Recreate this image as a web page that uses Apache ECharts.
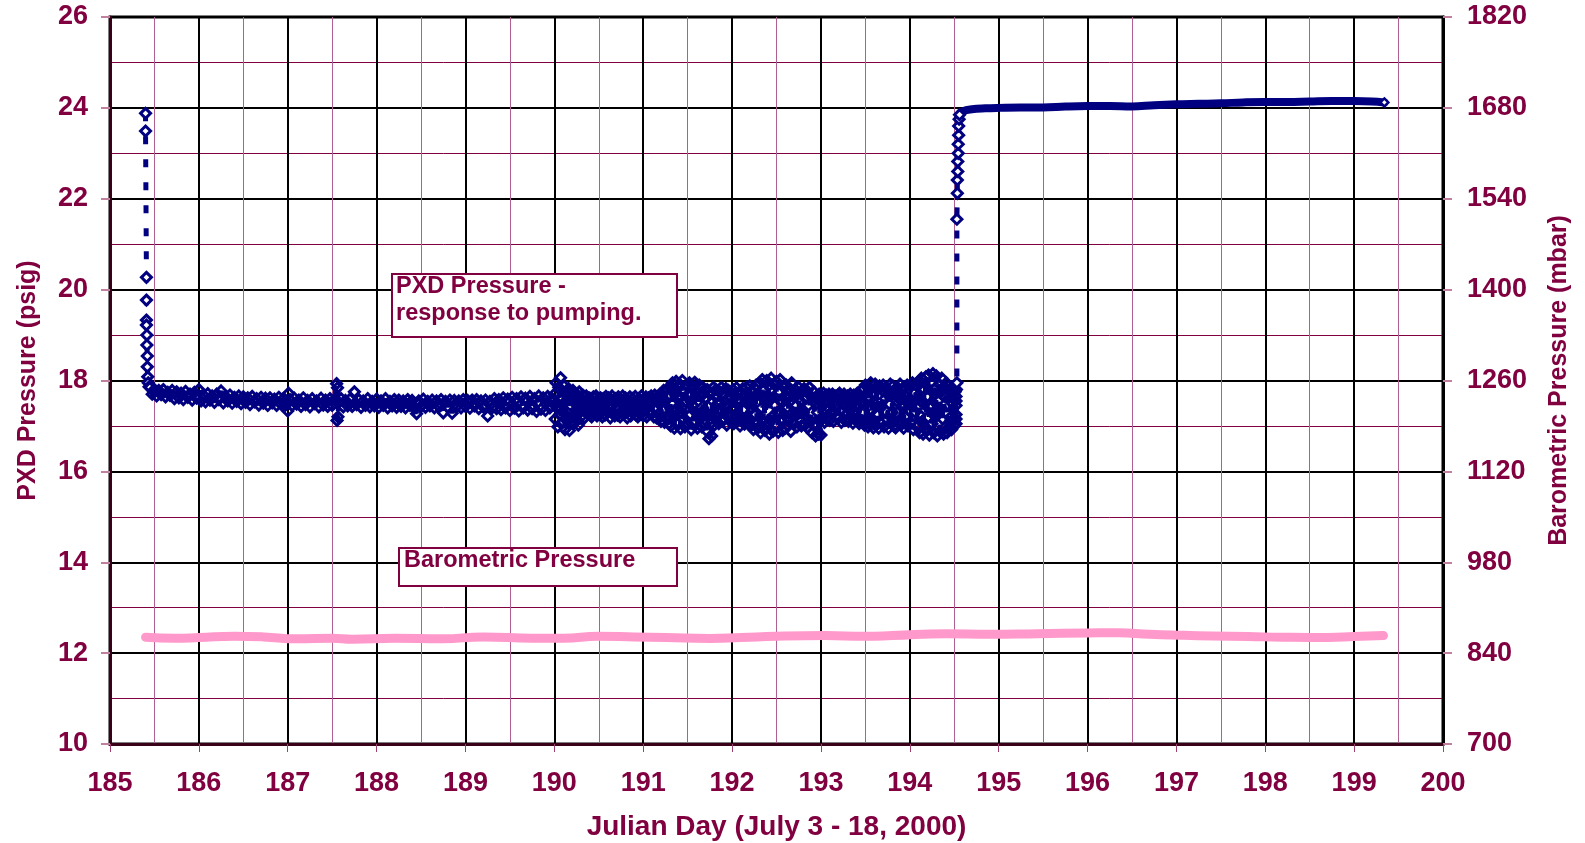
<!DOCTYPE html>
<html>
<head>
<meta charset="utf-8">
<script src="https://cdn.jsdelivr.net/npm/echarts@6/dist/echarts.min.js"></script>
<style>
html,body{margin:0;padding:0;background:#fff;}
#chart{width:1585px;height:843px;}
</style>
</head>
<body>
<div id="chart"></div>
<script>
// PXD pressure (psig), drop at the start of pumping: [Julian day, psig]
const pxdStart = [
[185.40,23.88],[185.40,23.49],[185.41,20.27],[185.41,19.77],[185.41,19.33],[185.41,19.22],[185.415,19.00],[185.415,18.78],[185.42,18.54],[185.42,18.30],[185.425,18.08],[185.43,17.95],[185.44,17.86]
];
// PXD pressure (psig), steady pumping, days 185.45 - 190: [Julian day, psig]
const pxdSteady = [
[185.450,17.85],[185.475,17.70],[185.500,17.80],[185.525,17.66],[185.550,17.78],[185.575,17.69],[185.600,17.80],[185.625,17.64],[185.650,17.74],[185.675,17.67],
[185.700,17.78],[185.725,17.60],[185.750,17.75],[185.775,17.62],[185.800,17.72],[185.825,17.58],[185.850,17.76],[185.875,17.63],[185.900,17.70],[185.925,17.57],
[185.950,17.74],[185.975,17.61],[186.000,17.80],[186.025,17.55],[186.050,17.68],[186.075,17.53],[186.100,17.71],[186.125,17.57],[186.150,17.66],[186.175,17.52],
[186.200,17.70],[186.225,17.58],[186.250,17.77],[186.275,17.51],[186.300,17.65],[186.325,17.55],[186.350,17.68],[186.375,17.50],[186.400,17.63],[186.425,17.54],
[186.450,17.66],[186.475,17.49],[186.500,17.64],[186.525,17.52],[186.550,17.62],[186.575,17.47],[186.600,17.65],[186.625,17.53],[186.650,17.60],[186.675,17.46],
[186.700,17.63],[186.725,17.50],[186.750,17.61],[186.775,17.45],[186.800,17.62],[186.825,17.51],[186.850,17.59],[186.875,17.45],[186.900,17.63],[186.925,17.48],
[186.950,17.60],[186.975,17.46],[187.000,17.33],[187.010,17.72],[187.025,17.58],[187.050,17.45],[187.075,17.61],[187.100,17.48],[187.125,17.57],[187.150,17.43],
[187.175,17.62],[187.200,17.47],[187.225,17.56],[187.250,17.42],[187.275,17.60],[187.300,17.49],[187.325,17.55],[187.350,17.42],[187.375,17.61],[187.400,17.46],
[187.425,17.57],[187.450,17.43],[187.475,17.60],[187.500,17.45],[187.525,17.58],[187.550,17.93],[187.555,17.12],[187.560,17.84],[187.565,17.20],[187.575,17.52],
[187.600,17.60],[187.625,17.42],[187.650,17.56],[187.675,17.44],[187.700,17.59],[187.725,17.43],[187.750,17.75],[187.775,17.47],[187.800,17.58],[187.825,17.41],
[187.850,17.55],[187.875,17.45],[187.900,17.60],[187.925,17.42],[187.950,17.54],[187.975,17.44],[188.000,17.59],[188.025,17.41],[188.050,17.55],[188.075,17.45],
[188.100,17.60],[188.125,17.40],[188.150,17.54],[188.175,17.44],[188.200,17.58],[188.225,17.41],[188.250,17.57],[188.275,17.43],[188.300,17.55],[188.325,17.40],
[188.350,17.58],[188.375,17.45],[188.400,17.56],[188.425,17.40],[188.450,17.27],[188.475,17.55],[188.500,17.43],[188.525,17.59],[188.550,17.41],[188.575,17.54],
[188.600,17.44],[188.625,17.57],[188.650,17.40],[188.675,17.55],[188.700,17.43],[188.725,17.58],[188.750,17.29],[188.775,17.54],[188.800,17.42],[188.825,17.57],
[188.850,17.28],[188.875,17.56],[188.900,17.42],[188.925,17.55],[188.950,17.40],[188.975,17.58],[189.000,17.43],[189.025,17.56],[189.050,17.39],[189.075,17.57],
[189.100,17.44],[189.125,17.58],[189.150,17.38],[189.175,17.55],[189.200,17.42],[189.225,17.57],[189.250,17.22],[189.275,17.54],[189.300,17.40],[189.325,17.60],
[189.350,17.38],[189.375,17.58],[189.400,17.36],[189.425,17.62],[189.450,17.40],[189.475,17.59],[189.500,17.34],[189.525,17.63],[189.550,17.39],[189.575,17.60],
[189.600,17.33],[189.625,17.64],[189.650,17.40],[189.675,17.61],[189.700,17.35],[189.725,17.65],[189.750,17.38],[189.775,17.60],[189.800,17.32],[189.825,17.66],
[189.850,17.37],[189.875,17.62],[189.900,17.34],[189.925,17.65],[189.950,17.40],[189.975,17.60]
];
// PXD pressure (psig), oscillating pumping, days 190 - 194.5: [Julian day, psig]
const pxdOscillating = [
[190.00,17.70],[190.01,17.15],[190.02,17.95],[190.03,17.40],[190.04,16.98],[190.05,17.85],[190.06,17.25],[190.07,18.06],[190.08,17.05],[190.09,17.60],
[190.10,17.30],[190.11,17.88],[190.12,16.92],[190.13,17.55],[190.14,17.75],[190.15,17.10],[190.16,17.82],[190.17,16.90],[190.18,17.45],[190.19,17.65],
[190.20,17.20],[190.21,17.78],[190.22,17.05],[190.23,17.50],[190.24,17.70],[190.25,17.15],[190.26,17.62],[190.27,17.02],[190.28,17.75],[190.29,17.35],
[190.30,17.60],[190.31,17.22],[190.32,17.68],[190.33,17.35],[190.34,17.18],[190.35,17.55],[190.36,17.66],[190.37,17.28],[190.38,17.45],[190.39,17.62],
[190.40,17.25],[190.41,17.60],[190.42,17.20],[190.43,17.50],[190.44,17.64],[190.45,17.30],[190.46,17.42],[190.47,17.66],[190.48,17.22],[190.49,17.55],
[190.50,17.58],[190.51,17.26],[190.52,17.62],[190.53,17.38],[190.54,17.20],[190.55,17.60],[190.56,17.48],[190.57,17.24],[190.58,17.65],[190.59,17.35],
[190.60,17.30],[190.61,17.62],[190.62,17.45],[190.63,17.18],[190.64,17.58],[190.65,17.66],[190.66,17.28],[190.67,17.52],[190.68,17.22],[190.69,17.60],
[190.70,17.55],[190.71,17.24],[190.72,17.64],[190.73,17.40],[190.74,17.20],[190.75,17.58],[190.76,17.32],[190.77,17.66],[190.78,17.26],[190.79,17.50],
[190.80,17.62],[190.81,17.30],[190.82,17.18],[190.83,17.56],[190.84,17.42],[190.85,17.64],[190.86,17.22],[190.87,17.50],[190.88,17.60],[190.89,17.28],
[190.90,17.36],[190.91,17.65],[190.92,17.24],[190.93,17.54],[190.94,17.20],[190.95,17.60],[190.96,17.44],[190.97,17.28],[190.98,17.66],[190.99,17.40],
[191.00,17.22],[191.01,17.58],[191.02,17.34],[191.03,17.64],[191.04,17.20],[191.05,17.52],[191.06,17.62],[191.07,17.30],[191.08,17.46],[191.09,17.66],
[191.10,17.28],[191.11,17.60],[191.12,17.20],[191.13,17.68],[191.14,17.40],[191.15,17.18],[191.16,17.62],[191.17,17.50],[191.18,17.26],[191.19,17.70],
[191.20,17.10],[191.21,17.72],[191.22,17.35],[191.23,17.78],[191.24,17.08],[191.25,17.55],[191.26,17.80],[191.27,17.20],[191.28,17.65],[191.29,17.05],
[191.30,17.85],[191.31,17.00],[191.32,17.50],[191.33,17.95],[191.34,17.20],[191.35,16.95],[191.36,17.70],[191.37,17.98],[191.38,17.35],[191.39,17.05],
[191.40,17.60],[191.41,17.92],[191.42,16.94],[191.43,17.40],[191.44,18.00],[191.45,17.15],[191.46,17.75],[191.47,16.98],[191.48,17.55],[191.49,17.88],
[191.50,17.05],[191.51,17.70],[191.52,17.95],[191.53,17.25],[191.54,16.92],[191.55,17.82],[191.56,17.45],[191.57,17.10],[191.58,17.96],[191.59,17.30],
[191.60,17.78],[191.61,16.95],[191.62,17.55],[191.63,17.90],[191.64,17.15],[191.65,17.65],[191.66,16.98],[191.67,17.85],[191.68,17.35],[191.69,17.05],
[191.70,17.60],[191.71,16.90],[191.72,17.80],[191.73,17.25],[191.74,16.72],[191.75,17.70],[191.76,17.05],[191.77,16.78],[191.78,17.55],[191.79,17.85],
[191.80,17.02],[191.81,17.65],[191.82,17.80],[191.83,17.20],[191.84,17.50],[191.85,17.05],[191.86,17.75],[191.87,17.35],[191.88,17.85],[191.89,17.10],
[191.90,17.70],[191.91,17.15],[191.92,17.55],[191.93,17.82],[191.94,17.02],[191.95,17.45],[191.96,17.78],[191.97,17.25],[191.98,17.62],[191.99,17.08],
[192.00,17.40],[192.01,17.80],[192.02,17.05],[192.03,17.66],[192.04,17.22],[192.05,17.84],[192.06,17.12],[192.07,17.58],[192.08,17.74],[192.09,17.00],
[192.10,17.55],[192.11,17.15],[192.12,17.82],[192.13,17.35],[192.14,17.04],[192.15,17.70],[192.16,17.85],[192.17,17.20],[192.18,17.60],[192.19,17.10],
[192.20,17.88],[192.21,17.00],[192.22,17.50],[192.23,17.75],[192.24,16.92],[192.25,17.65],[192.26,17.25],[192.27,17.90],[192.28,17.10],[192.29,16.95],
[192.30,17.70],[192.31,17.95],[192.32,16.85],[192.33,17.40],[192.34,18.02],[192.35,17.10],[192.36,17.80],[192.37,16.90],[192.38,17.55],[192.39,18.00],
[192.40,17.05],[192.41,17.88],[192.42,16.82],[192.43,17.60],[192.44,18.05],[192.45,17.20],[192.46,16.88],[192.47,17.92],[192.48,17.45],[192.49,17.00],
[192.50,17.98],[192.51,17.30],[192.52,16.86],[192.53,17.75],[192.54,18.02],[192.55,17.10],[192.56,17.55],[192.57,16.90],[192.58,17.85],[192.59,17.25],
[192.60,16.95],[192.61,17.90],[192.62,17.40],[192.63,17.00],[192.64,17.82],[192.65,17.65],[192.66,16.88],[192.67,17.95],[192.68,17.20],[192.69,17.70],
[192.70,17.05],[192.71,17.80],[192.72,17.45],[192.73,16.98],[192.74,17.70],[192.75,17.85],[192.76,17.15],[192.77,17.55],[192.78,17.00],[192.79,17.75],
[192.80,17.30],[192.81,17.82],[192.82,17.02],[192.83,17.60],[192.84,17.78],[192.85,16.96],[192.86,17.45],[192.87,17.85],[192.88,17.10],[192.89,17.65],
[192.90,16.85],[192.91,17.55],[192.92,17.75],[192.93,17.00],[192.94,16.78],[192.95,17.65],[192.96,17.30],[192.97,16.82],[192.98,17.70],[192.99,17.10],
[193.00,16.80],[193.01,17.62],[193.02,17.20],[193.03,17.72],[193.04,17.08],[193.05,17.50],[193.06,17.68],[193.07,17.15],[193.08,17.40],[193.09,17.70],
[193.10,17.12],[193.11,17.60],[193.12,17.30],[193.13,17.70],[193.14,17.10],[193.15,17.52],[193.16,17.66],[193.17,17.22],[193.18,17.45],[193.19,17.68],
[193.20,17.18],[193.21,17.72],[193.22,17.35],[193.23,17.08],[193.24,17.62],[193.25,17.48],[193.26,17.70],[193.27,17.12],[193.28,17.56],[193.29,17.25],
[193.30,17.66],[193.31,17.10],[193.32,17.42],[193.33,17.70],[193.34,17.20],[193.35,17.58],[193.36,17.06],[193.37,17.68],[193.38,17.32],[193.39,17.64],
[193.40,17.15],[193.41,17.72],[193.42,17.40],[193.43,17.05],[193.44,17.66],[193.45,17.78],[193.46,17.12],[193.47,17.55],[193.48,17.82],[193.49,17.02],
[193.50,17.90],[193.51,17.10],[193.52,17.60],[193.53,16.98],[193.54,17.85],[193.55,17.35],[193.56,17.95],[193.57,17.05],[193.58,17.72],[193.59,16.96],
[193.60,17.50],[193.61,17.92],[193.62,17.02],[193.63,17.80],[193.64,17.25],[193.65,16.95],[193.66,17.88],[193.67,17.40],[193.68,17.05],[193.69,17.78],
[193.70,17.90],[193.71,16.98],[193.72,17.60],[193.73,17.85],[193.74,17.15],[193.75,17.70],[193.76,16.95],[193.77,17.48],[193.78,17.92],[193.79,17.05],
[193.80,17.30],[193.81,17.88],[193.82,17.00],[193.83,17.75],[193.84,16.96],[193.85,17.55],[193.86,17.85],[193.87,17.10],[193.88,17.68],[193.89,17.92],
[193.90,17.02],[193.91,17.80],[193.92,17.40],[193.93,16.95],[193.94,17.86],[193.95,17.20],[193.96,17.65],[193.97,17.90],[193.98,17.00],[193.99,17.58],
[194.00,17.88],[194.01,17.08],[194.02,17.50],[194.03,17.95],[194.04,16.92],[194.05,17.72],[194.06,17.30],[194.07,17.90],[194.08,16.98],[194.09,17.60],
[194.10,17.98],[194.11,16.85],[194.12,17.55],[194.13,18.05],[194.14,17.10],[194.15,16.82],[194.16,17.80],[194.17,17.35],[194.18,18.08],[194.19,16.90],
[194.20,17.65],[194.21,18.12],[194.22,16.80],[194.23,17.40],[194.24,17.95],[194.25,17.05],[194.26,18.15],[194.27,16.85],[194.28,17.70],[194.29,17.20],
[194.30,18.10],[194.31,16.78],[194.32,17.55],[194.33,17.92],[194.34,16.88],[194.35,17.75],[194.36,18.05],[194.37,17.15],[194.38,16.82],[194.39,17.85],
[194.40,17.30],[194.41,17.95],[194.42,16.85],[194.43,17.60],[194.44,17.88],[194.45,17.00],[194.46,17.75],[194.47,16.92],[194.48,17.50],[194.49,17.82],
[194.50,17.00],[194.51,17.75],
[194.52,17.05],[194.52,17.65],[194.52,17.15],[194.52,17.55],[194.52,17.25],[194.52,17.45],[194.525,17.80]
];
// PXD pressure (psig), rise after pumping stopped: [Julian day, psig]
const pxdRise = [
[194.53,17.95],[194.53,21.55],[194.535,22.12],[194.535,22.41],[194.54,22.60],[194.54,22.82],[194.545,23.00],[194.545,23.20],[194.55,23.40],[194.55,23.60],[194.555,23.75],[194.56,23.85]
];
// PXD pressure (psig), recovered plateau: [Julian day, psig]
const pxdRecovery = [
[194.56,23.85],[194.60,23.93],[194.70,23.97],[194.85,23.99],[195.00,24.00],[195.25,24.01],[195.50,24.01],[195.75,24.03],[196.00,24.04],[196.25,24.04],
[196.50,24.03],[196.75,24.06],[197.00,24.08],[197.25,24.09],[197.50,24.10],[197.75,24.12],[198.00,24.13],[198.25,24.13],[198.50,24.14],[198.75,24.15],
[199.00,24.15],[199.20,24.14],[199.34,24.12]
];
// Barometric pressure (mbar): [Julian day, mbar]
const baroMbar = [
[185.40,864.5],[185.73,863],[186.00,864],[186.40,866],[186.73,865],[187.10,862],[187.50,863],[187.73,861.5],[188.20,863],[188.74,862],
[189.20,865],[189.75,863],[190.10,863],[190.50,866],[190.90,865],[191.26,864],[191.75,862.5],[192.10,864],[192.50,866],[193.05,867],
[193.50,866],[193.80,867],[194.41,870],[194.90,869],[195.44,870],[196.00,871],[196.34,871.5],[196.70,869],[197.08,867.5],[197.40,866.5],
[197.81,865.5],[198.20,864.5],[198.71,864],[199.00,865.5],[199.33,867]
];
const xTitle = 'Julian Day (July 3 - 18, 2000)';
const yTitleLeft = 'PXD Pressure (psig)';
const yTitleRight = 'Barometric Pressure (mbar)';
const noteTop = ['PXD Pressure -', 'response to pumping.'];
const noteBottom = 'Barometric Pressure';

// sparse points (fast drop / rise) get white-filled hollow markers
const sparse = p => ({value: p, itemStyle: {color: '#ffffff'}});
const pxdPumping = pxdStart.map(sparse).concat(pxdSteady, pxdOscillating, pxdRise.map(sparse));

const TXT = '#800040';
const FONT = '"Liberation Sans", Arial, sans-serif';
const chart = echarts.init(document.getElementById('chart'), null, {renderer: 'canvas'});
const labelStyle = {color: TXT, fontWeight: 'bold', fontSize: 27, fontFamily: FONT, formatter: v => String(v)};
chart.setOption({
  animation: false,
  backgroundColor: '#fff',
  grid: {left: 110, right: 142, top: 17, bottom: 99, show: true, borderColor: '#000', borderWidth: 3,
         backgroundColor: 'transparent', outerBoundsMode: 'none', containLabel: false},
  xAxis: {
    type: 'value', min: 185, max: 200, interval: 1,
    name: xTitle, nameLocation: 'middle', nameGap: 69,
    nameTextStyle: {color: TXT, fontWeight: 'bold', fontSize: 28, fontFamily: FONT},
    axisLine: {show: true, lineStyle: {color: '#3a0018', width: 3}},
    axisTick: {show: true, length: 8, lineStyle: {color: '#a04070', width: 1}},
    axisLabel: Object.assign({margin: 26}, labelStyle),
    splitLine: {show: true, lineStyle: {color: '#000', width: 2}},
    minorTick: {show: false, splitNumber: 2},
    minorSplitLine: {show: true, lineStyle: {color: '#b06090', width: 1}}
  },
  yAxis: [{
    type: 'value', min: 10, max: 26, interval: 2,
    name: yTitleLeft, nameLocation: 'middle', nameGap: 69, nameRotate: 90,
    nameTextStyle: {color: TXT, fontWeight: 'bold', fontSize: 25, fontFamily: FONT},
    axisLine: {show: true, lineStyle: {color: '#3a0018', width: 3}},
    axisTick: {show: true, length: 9, lineStyle: {color: '#c080a0', width: 2}},
    axisLabel: Object.assign({margin: 22}, labelStyle),
    splitLine: {show: true, lineStyle: {color: '#000', width: 2}},
    minorTick: {show: false, splitNumber: 2},
    minorSplitLine: {show: true, lineStyle: {color: '#800040', width: 1}}
  }, {
    type: 'value', min: 700, max: 1820, interval: 140, position: 'right',
    name: yTitleRight, nameLocation: 'middle', nameGap: 104, nameRotate: 90,
    nameTextStyle: {color: TXT, fontWeight: 'bold', fontSize: 25, fontFamily: FONT},
    axisLine: {show: true, lineStyle: {color: '#000', width: 3}},
    axisTick: {show: true, length: 9, lineStyle: {color: '#c080a0', width: 2}},
    axisLabel: Object.assign({margin: 24}, labelStyle),
    splitLine: {show: false}
  }],
  series: [{
    name: 'Barometric Pressure', type: 'line', yAxisIndex: 1, data: baroMbar,
    smooth: 0.5, showSymbol: false, z: 2,
    lineStyle: {color: '#ff99cc', width: 9, cap: 'round', join: 'round'}
  }, {
    name: 'PXD Pressure recovery', type: 'line', data: pxdRecovery,
    smooth: 0.4, z: 3, symbol: 'diamond', showAllSymbol: true,
    symbolSize: (v, p) => (p.dataIndex === pxdRecovery.length - 1 ? 8 : 0),
    itemStyle: {color: '#ffffff', borderColor: '#000080', borderWidth: 2.5},
    lineStyle: {color: '#000080', width: 8, cap: 'round', join: 'round'}
  }, {
    name: 'PXD Pressure', type: 'line', data: pxdPumping, z: 4,
    symbol: 'diamond', symbolSize: 10, showAllSymbol: true,
    itemStyle: {color: 'rgba(255,255,255,0)', borderColor: '#000080', borderWidth: 3},
    lineStyle: {color: '#000080', width: 5, type: [8, 15]}
  }],
  graphic: [
    {type: 'rect', left: 391, top: 273, shape: {width: 285, height: 63}, style: {fill: '#fff', stroke: '#800040', lineWidth: 2}, z: 100},
    {type: 'text', left: 396, top: 273, z: 101, style: {text: noteTop.join('\n'), fill: TXT, font: 'bold 23.5px ' + FONT, lineHeight: 27}},
    {type: 'rect', left: 398, top: 547, shape: {width: 278, height: 38}, style: {fill: '#fff', stroke: '#800040', lineWidth: 2}, z: 100},
    {type: 'text', left: 404, top: 547, z: 101, style: {text: noteBottom, fill: TXT, font: 'bold 23.5px ' + FONT, lineHeight: 27}}
  ]
});
</script>
</body>
</html>
